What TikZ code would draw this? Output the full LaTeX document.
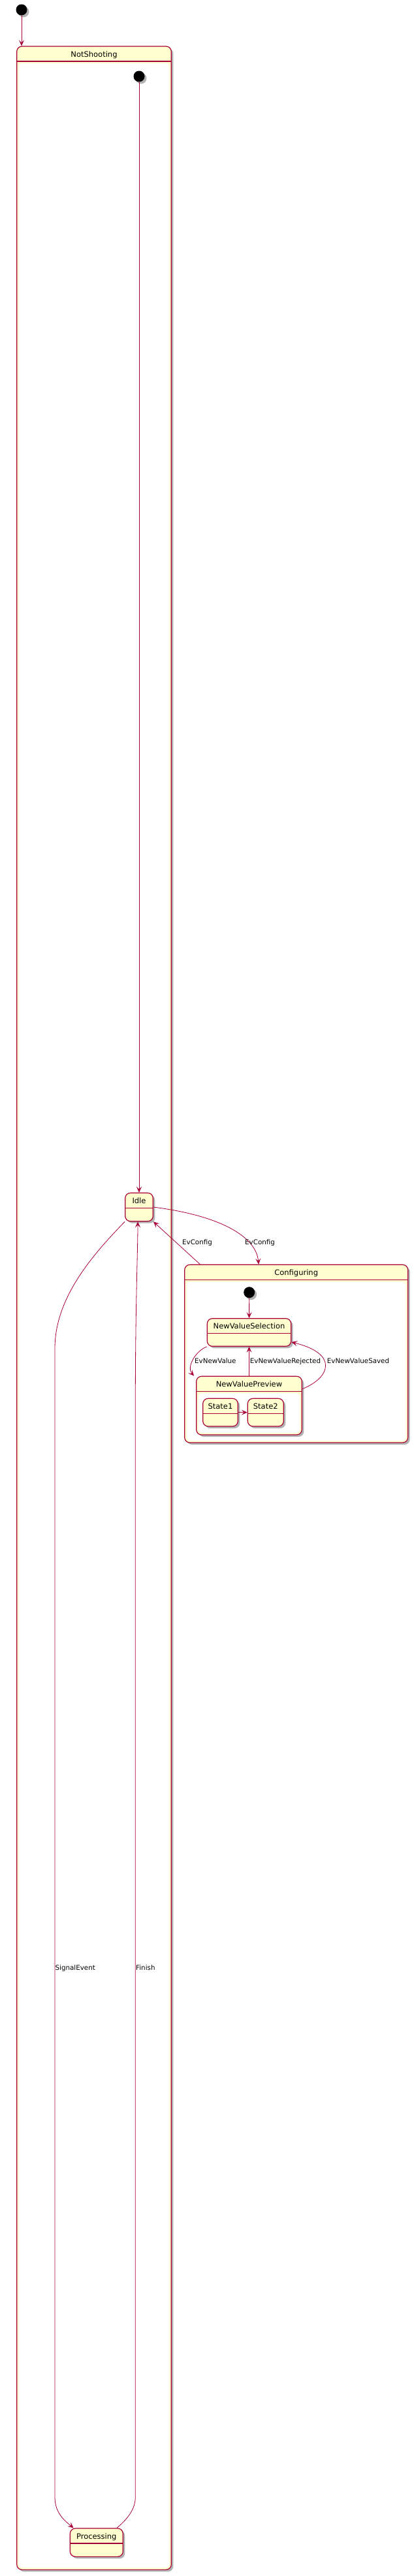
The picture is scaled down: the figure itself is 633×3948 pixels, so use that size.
\documentclass[tikz,border=0pt]{standalone}
\usepackage{fontspec}
\setmainfont{DejaVu Sans}
\usetikzlibrary{arrows.meta,shadows}
\definecolor{umlred}{RGB}{168,0,54}
\definecolor{umlyellow}{RGB}{254,254,206}

\begin{document}
\begin{tikzpicture}[x=1pt,y=-1pt,
    shadowed/.style={drop shadow={shadow xshift=3pt,shadow yshift=-3pt,fill=black,opacity=0.3}},
    initdot/.style={circle,fill=black,minimum size=17pt,inner sep=0pt,shadowed},
    statebox/.style={draw=umlred,fill=umlyellow,line width=1.2pt,rounded corners=8pt,
      inner sep=0pt,text height=16pt,shadowed,font=\fontsize{11.5}{13}\selectfont,
      path picture={\draw[umlred,line width=1.2pt]
        ([yshift=-23pt]path picture bounding box.north west) --
        ([yshift=-23pt]path picture bounding box.north east);}},
    compbox/.style={statebox,
      path picture={\fill[white,rounded corners=6pt]
        ([xshift=3pt,yshift=-26pt]path picture bounding box.north west) rectangle
        ([xshift=-3pt,yshift=3pt]path picture bounding box.south east);
        \draw[umlred,line width=1.2pt]
        ([yshift=-23pt]path picture bounding box.north west) --
        ([yshift=-23pt]path picture bounding box.north east);}},
    trans/.style={draw=umlred,line width=0.8pt,-{Stealth[length=9pt,width=8pt,inset=4pt]}},
    lbl/.style={anchor=west,inner sep=0pt,text height=7.6pt,text depth=2.2pt,
      font=\fontsize{10.3}{12}\selectfont}]
  \useasboundingbox (0,0) rectangle (633,3948);

  % composite states
  \node[compbox,minimum width=236.6pt,text depth=3851.3pt] (notshoot) at (144,2004.65) {NotShooting};
  \node[compbox,minimum width=342pt,text depth=256.7pt] (config) at (453.7,2074.65) {Configuring};
  \node[compbox,minimum width=161.6pt,text depth=73.7pt] (nvprev) at (381.5,2154.15) {NewValuePreview};

  % simple states
  \node[statebox,minimum width=42.6pt,text depth=27.4pt] (idle) at (213,1850) {Idle};
  \node[statebox,minimum width=81pt,text depth=27.3pt] (processing) at (147.8,3896.65) {Processing};
  \node[statebox,minimum width=128.4pt,text depth=26.6pt] (nvsel) at (381.5,2042) {NewValueSelection};
  \node[statebox,minimum width=53.6pt,text depth=26.7pt] (state1) at (337.5,2164.65) {State1};
  \node[statebox,minimum width=55pt,text depth=26.7pt] (state2) at (406.8,2164.65) {State2};

  % initial states
  \node[initdot] (init0) at (33,15) {};
  \node[initdot] (init1) at (213,117) {};
  \node[initdot] (init2) at (381.7,1980.7) {};

  % transitions
  \draw[trans] (init0) -- (init0 |- notshoot.north);
  \draw[trans] (init1) -- (idle);
  \draw[trans] (idle.east) .. controls (330,1862) and (392,1892) .. ([xshift=114pt]config.north west);
  \draw[trans] ([xshift=24.3pt]config.north west) -- (idle.south east);
  \draw[trans] (idle.south west) .. controls (140,1925) and (84,1990) .. (84,2067)
    -- (84,3827) .. controls (84,3852) and (100,3864) .. ([xshift=6pt]processing.north west);
  \draw[trans] ([xshift=-10pt]processing.north east) .. controls (196,3860) and (207.3,3845) .. (207.3,3827)
    -- (207.3,2150) .. controls (207.3,2000) and (211,1920) .. ([xshift=-2pt]idle.south);
  \draw[trans] (init2) -- (nvsel);
  \draw[trans] (nvsel.south west) .. controls (300,2070) and (285,2095) .. ([xshift=-3pt]nvprev.north west);
  \draw[trans] (nvprev.north) -- (nvsel.south);
  \draw[trans] ([yshift=-20pt]nvprev.north east) .. controls (505,2112) and (520,2075) .. ([yshift=7pt]nvsel.south east);
  \draw[trans] (state1) -- (state2);

  % transition labels
  \node[lbl] (lcfgback) at (279,1905) {EvConfig};
  \node[lbl] (lcfgin) at (375,1905) {EvConfig};
  \node[lbl] (lsignal) at (84.5,3017) {SignalEvent};
  \node[lbl] (lfinish) at (208,3017) {Finish};
  \node[lbl] (lnewval) at (298,2087) {EvNewValue};
  \node[lbl] (lrejected) at (382.7,2087) {EvNewValueRejected};
  \node[lbl] (lsaved) at (500.7,2087) {EvNewValueSaved};
\end{tikzpicture}
\end{document}
